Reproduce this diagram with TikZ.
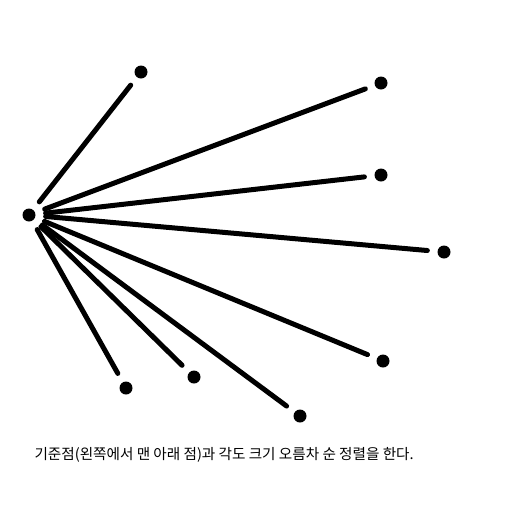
\documentclass[tikz,border=0pt]{standalone}
\usepackage{fontspec}
\newfontfamily\krfont{Noto Sans CJK KR}
\usetikzlibrary{positioning}
\tikzset{
  pt/.style={circle, fill=black, inner sep=0pt, minimum size=13pt},
  edge/.style={line width=5pt, line cap=round, draw=black,
               shorten <=10pt, shorten >=10pt},
  caption/.style={font=\krfont\fontsize{14.6}{17}\selectfont, anchor=west},
}
\begin{document}
\begin{tikzpicture}[x=1pt, y=-1pt]
  \useasboundingbox (0,0) rectangle (512,512);
  % ---------------------------------------------------------- pivot
  \node[pt] (p0) at (29,215) {};
  % ---------------------------------------------------------- points
  \foreach \i/\x/\y in {1/126/388, 2/194/377, 3/300/416, 4/383/361,
                        5/444/252, 6/381/175, 7/381/83, 8/141/72} {
    \node[pt] (p\i) at (\x,\y) {};
    \draw[edge] (p0) -- (p\i);
  }
  \node[caption] (cap) at (31,455)
    {기준점(왼쪽에서 맨 아래 점)과 각도 크기 오름차 순 정렬을 한다.};
\end{tikzpicture}
\end{document}
